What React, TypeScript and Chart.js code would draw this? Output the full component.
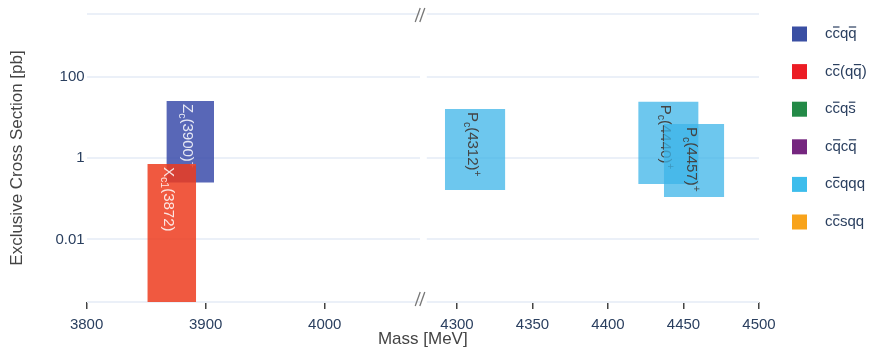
import React, { useEffect, useRef } from "react";
import { Chart, registerables } from "chart.js";

Chart.register(...registerables);

// ---- data ----
const familyNames = [
  "cc\u0305qq\u0305",
  "cc\u0305(qq\u0305)",
  "cc\u0305qs\u0305",
  "cq\u0305cq\u0305",
  "cc\u0305qqq",
  "cc\u0305sqq",
];
const familyColors = ["#3a4fa3", "#ec1c24", "#238a47", "#75267f", "#3dbdec", "#f8a31b"];

const stateLabels = ["Z_{c}(3900)^{+}", "X_{c1}(3872)", "P_{c}(4312)^{+}", "P_{c}(4440)^{+}", "P_{c}(4457)^{+}"];
const stateAxis = ["xL", "xL", "xR", "xR", "xR"];
const stateMassLow = [3867, 3851, 4292, 4420, 4437];
const stateMassHigh = [3907, 3892, 4332, 4460, 4477];
const stateXsecLow = [0.25, 0.0001, 0.165, 0.23, 0.11];
const stateXsecHigh = [25, 0.71, 16, 24, 6.8];
const stateFill = [
  "rgba(59,76,170,0.85)",
  "rgba(237,60,30,0.85)",
  "rgba(60,180,232,0.75)",
  "rgba(60,180,232,0.75)",
  "rgba(60,180,232,0.75)",
];
const stateTextColor = [
  "rgba(255,255,255,0.85)",
  "rgba(255,255,255,0.85)",
  "#444444",
  "#444444",
  "#444444",
];

const leftTicks = [3800, 3900, 4000];
const rightTicks = [4300, 4350, 4400, 4450, 4500];
const yTicks = [0.01, 1, 100];

const leftMin = 3800;
const leftMax = 4085.7;
const leftBreakAt = 4080;
const rightMin = 4280;
const rightMax = 4500;
const yMin = Math.pow(10, -3.534);
const yMax = Math.pow(10, 3.534);

const FONT = '"Liberation Sans", Arial, sans-serif';
const TICK_COLOR = "#2a3f5f";
const TITLE_COLOR = "#444444";
const GRID_COLOR = "#ebf0f8";

type Part = { kind: "n" | "sub" | "sup"; text: string };
function parseRich(s: string): Part[] {
  const out: Part[] = [];
  const re = /(_\{[^}]*\}|\^\{[^}]*\}|[^_^]+)/g;
  let m: RegExpExecArray | null;
  while ((m = re.exec(s))) {
    const t = m[0];
    if (t.startsWith("_{")) out.push({ kind: "sub", text: t.slice(2, -1) });
    else if (t.startsWith("^{")) out.push({ kind: "sup", text: t.slice(2, -1) });
    else out.push({ kind: "n", text: t });
  }
  return out;
}

const stateLabelPlugin = {
  id: "stateLabels",
  afterDatasetDraw(chart: any, args: any) {
    const idx = args.index;
    if (idx % 2 !== 0) return;
    const i = idx / 2;
    const xs = chart.scales[stateAxis[i]];
    const ys = chart.scales.y;
    const xc = xs.getPixelForValue((stateMassLow[i] + stateMassHigh[i]) / 2);
    const yt = ys.getPixelForValue(stateXsecHigh[i]);
    const a = chart.chartArea;
    const ctx = chart.ctx;
    ctx.save();
    ctx.beginPath();
    ctx.rect(a.left, a.top, a.right - a.left, a.bottom - a.top);
    ctx.clip();
    ctx.translate(xc - 2, yt + 3);
    ctx.rotate(Math.PI / 2);
    ctx.fillStyle = stateTextColor[i];
    ctx.textBaseline = "alphabetic";
    ctx.textAlign = "left";
    let x = 0;
    const base = 5.3;
    for (const p of parseRich(stateLabels[i])) {
      const size = p.kind === "n" ? 15 : 10.5;
      const dy = p.kind === "sub" ? 3.5 : p.kind === "sup" ? -6 : 0;
      ctx.font = `${size}px ${FONT}`;
      ctx.fillText(p.text, x, base + dy);
      x += ctx.measureText(p.text).width;
    }
    ctx.restore();
  },
};

const breakPlugin = {
  id: "axisBreak",
  beforeDatasetsDraw(chart: any) {
    const xl = chart.scales.xL;
    const a = chart.chartArea;
    const x0 = xl.getPixelForValue(leftBreakAt);
    const ctx = chart.ctx;
    ctx.save();
    ctx.fillStyle = "#ffffff";
    ctx.fillRect(x0, a.top - 3, xl.right - x0, a.bottom - a.top + 6);
    ctx.restore();
  },
  afterDraw(chart: any) {
    const xl = chart.scales.xL;
    const a = chart.chartArea;
    const cx = xl.getPixelForValue(leftBreakAt);
    const ctx = chart.ctx;
    ctx.save();
    ctx.strokeStyle = "#777777";
    ctx.lineWidth = 1.3;
    for (const cy of [a.top + 1, a.bottom - 3]) {
      for (const dx of [-2.3, 2.3]) {
        ctx.beginPath();
        ctx.moveTo(cx + dx - 2.5, cy + 7);
        ctx.lineTo(cx + dx + 2.5, cy - 7);
        ctx.stroke();
      }
    }
    ctx.restore();
  },
};

const legendPlugin = {
  id: "familyLegend",
  afterDraw(chart: any) {
    const a = chart.chartArea;
    const ctx = chart.ctx;
    const sqX = a.right + 33;
    const txtX = a.right + 66;
    const top = a.top + 12.5;
    const step = 37.6;
    ctx.save();
    familyNames.forEach((name, k) => {
      const y = top + k * step;
      ctx.fillStyle = familyColors[k];
      ctx.fillRect(sqX, y, 15, 15);
      const yc = y + 7.5;
      ctx.font = `15px ${FONT}`;
      ctx.fillStyle = TICK_COLOR;
      ctx.strokeStyle = TICK_COLOR;
      ctx.textBaseline = "alphabetic";
      ctx.textAlign = "left";
      let x = txtX;
      const baseline = yc + 4;
      const chars = Array.from(name);
      for (let c = 0; c < chars.length; c++) {
        const ch = chars[c];
        if (ch === "\u0305") continue;
        const w = ctx.measureText(ch).width;
        ctx.fillText(ch, x, baseline);
        if (chars[c + 1] === "\u0305") {
          ctx.lineWidth = 1.2;
          ctx.beginPath();
          ctx.moveTo(x + 0.5, baseline - 11);
          ctx.lineTo(x + w - 0.5, baseline - 11);
          ctx.stroke();
        }
        x += w;
      }
    });
    ctx.restore();
  },
};

export default function App() {
  const ref = useRef<HTMLCanvasElement | null>(null);
  useEffect(() => {
    document.body.style.margin = "0";
    const canvas = ref.current;
    if (!canvas) return;
    Chart.defaults.font.family = FONT;

    const n = stateLabels.length;
    const datasets: any[] = [];
    stateLabels.forEach((_, i) => {
      datasets.push({
        label: stateLabels[i],
        xAxisID: stateAxis[i],
        yAxisID: "y",
        order: n - i,
        data: [
          { x: stateMassLow[i], y: stateXsecHigh[i] },
          { x: stateMassHigh[i], y: stateXsecHigh[i] },
        ],
        fill: 2 * i + 1,
        backgroundColor: stateFill[i],
        borderColor: "transparent",
        borderWidth: 0,
        pointRadius: 0,
        pointHoverRadius: 0,
        tension: 0,
      });
      datasets.push({
        label: stateLabels[i] + " low",
        xAxisID: stateAxis[i],
        yAxisID: "y",
        order: n - i,
        data: [
          { x: stateMassLow[i], y: stateXsecLow[i] },
          { x: stateMassHigh[i], y: stateXsecLow[i] },
        ],
        fill: false,
        backgroundColor: "transparent",
        borderColor: "transparent",
        borderWidth: 0,
        pointRadius: 0,
        pointHoverRadius: 0,
        tension: 0,
      });
    });

    const xCommon = (ticksArr: number[]) => ({
      type: "linear",
      position: "bottom",
      stack: "mass",
      bounds: "data",
      afterBuildTicks: (s: any) => {
        s.ticks = ticksArr.map((v) => ({ value: v }));
      },
      ticks: {
        font: { size: 15 },
        color: TICK_COLOR,
        padding: 7,
        maxRotation: 0,
        autoSkip: false,
        callback: (v: any) => String(v),
      },
      grid: {
        drawOnChartArea: false,
        drawTicks: true,
        tickLength: 7,
        color: "#444444",
        lineWidth: 1.5,
      },
      border: { display: false },
    });

    const chart = new Chart(canvas, {
      type: "line",
      data: { datasets },
      options: {
        responsive: false,
        animation: false,
        events: [],
        layout: { padding: { top: 14, right: 114, bottom: 0, left: 0 } },
        plugins: {
          legend: { display: false },
          tooltip: { enabled: false },
          filler: { drawTime: "beforeDatasetDraw" },
          title: {
            display: true,
            text: "Mass [MeV]",
            position: "bottom",
            fullSize: false,
            color: TITLE_COLOR,
            font: { size: 17, weight: "normal", lineHeight: 1 },
            padding: { top: -10, bottom: 0 },
          },
        },
        scales: {
          xL: { ...xCommon(leftTicks), min: leftMin, max: leftMax, stackWeight: 340 },
          xR: { ...xCommon(rightTicks), min: rightMin, max: rightMax, stackWeight: 332 },
          y: {
            type: "logarithmic",
            position: "left",
            bounds: "data",
            min: yMin,
            max: yMax,
            afterBuildTicks: (s: any) => {
              s.ticks = [yMin, ...yTicks, yMax].map((v) => ({ value: v }));
            },
            ticks: {
              font: { size: 15 },
              color: TICK_COLOR,
              padding: 2,
              autoSkip: false,
              callback: (v: any) => (yTicks.includes(v) ? String(v) : ""),
            },
            grid: { drawTicks: false, color: GRID_COLOR, lineWidth: 2 },
            border: { display: false },
            title: {
              display: true,
              text: "Exclusive Cross Section [pb]",
              color: TITLE_COLOR,
              font: { size: 17 },
              padding: { top: 7, bottom: 26 },
            },
          },
        },
      } as any,
      plugins: [breakPlugin, stateLabelPlugin, legendPlugin],
    } as any);
    return () => chart.destroy();
  }, []);

  return (
    <div style={{ width: 873, height: 348 }}>
      <canvas ref={ref} width={873} height={348} style={{ display: "block" }} />
    </div>
  );
}
